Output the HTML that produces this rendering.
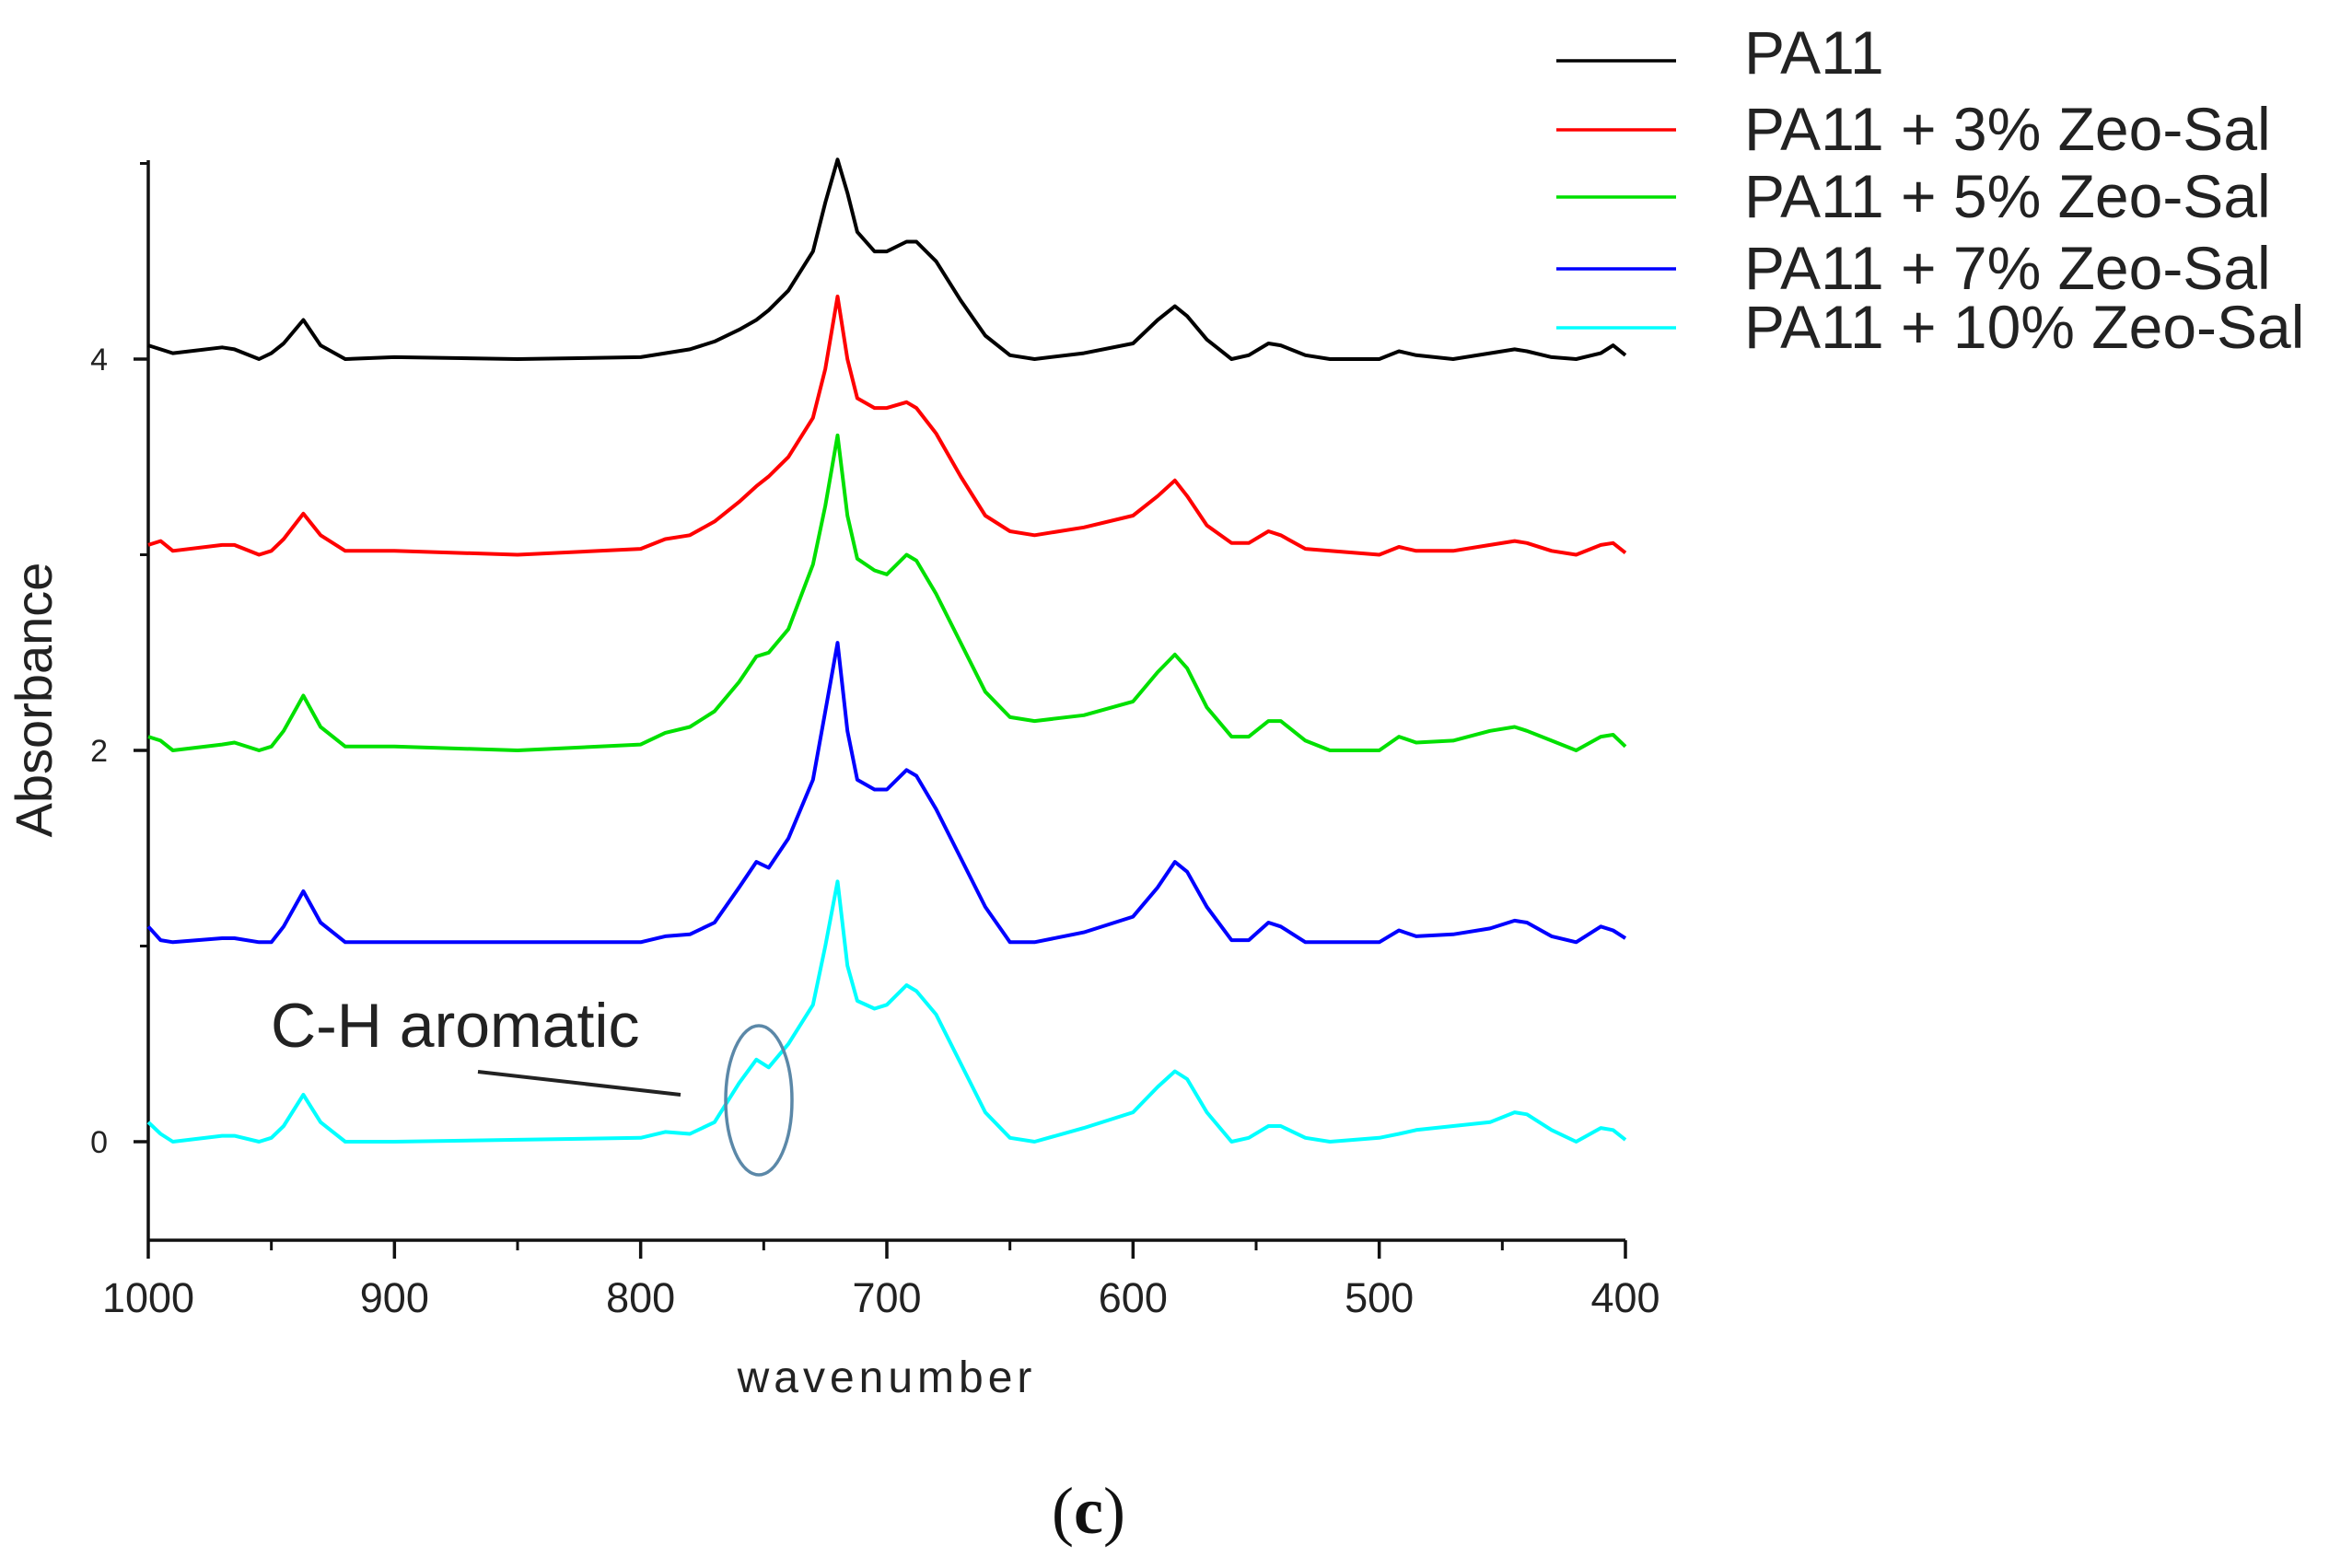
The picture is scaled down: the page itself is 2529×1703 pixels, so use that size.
<!DOCTYPE html>
<html><head><meta charset="utf-8"><style>
body{margin:0;background:#fff;}
svg{display:block;font-family:"Liberation Sans",sans-serif;}
</style></head><body>
<svg id="chart" width="2529" height="1703" viewBox="0 0 2529 1703">
<g id="axes"></g>
<g id="series"></g>
<text x="56" y="760" transform="rotate(-90 56 760)" text-anchor="middle" font-size="56" fill="#222">Absorbance</text>
<text x="963" y="1512" text-anchor="middle" font-size="48" letter-spacing="5" fill="#222">wavenumber</text>
<text x="294" y="1137" font-size="68" fill="#222">C-H aromatic</text>
<line x1="519" y1="1164" x2="739" y2="1189" stroke="#222" stroke-width="4"/>
<ellipse cx="824" cy="1195" rx="36" ry="81" fill="none" stroke="#5b88a8" stroke-width="3.5"/>
<text x="1182" y="1665" text-anchor="middle" font-family="Liberation Serif,serif" font-size="72" fill="#111">(<tspan font-weight="bold">c</tspan>)</text>
<g id="legend"></g>
</svg>
<script>
const wavenumbers=[1000,995,990,970,965,955,950,945,937,930,920,900,850,800,790,780,770,760,753,748,740,730,725,720,716,712,705,700,692,688,680,670,660,650,640,620,600,590,583,578,570,560,553,545,540,530,520,500,492,485,470,455,445,440,430,420,410,405,400];
const seriesNames=["PA11","PA11 + 3% Zeo-Sal","PA11 + 5% Zeo-Sal","PA11 + 7% Zeo-Sal","PA11 + 10% Zeo-Sal"];
const seriesColors=["#000000","#ff0000","#00e000","#0000ff","#00ffff"];
const offsets=[4,3,2,1,0];
const pa11=[0.07,0.05,0.03,0.06,0.05,0,0.03,0.08,0.2,0.07,0,0.01,0,0.01,0.03,0.05,0.09,0.15,0.2,0.25,0.35,0.55,0.8,1.02,0.85,0.65,0.55,0.55,0.6,0.6,0.5,0.3,0.12,0.02,0,0.03,0.08,0.2,0.27,0.22,0.1,0,0.02,0.08,0.07,0.02,0,0,0.04,0.02,0,0.03,0.05,0.04,0.01,0,0.03,0.07,0.02];
const pa11z3=[0.05,0.07,0.02,0.05,0.05,0,0.02,0.08,0.21,0.1,0.02,0.02,0,0.03,0.08,0.1,0.17,0.27,0.35,0.4,0.5,0.7,0.95,1.32,1.0,0.8,0.75,0.75,0.78,0.75,0.62,0.4,0.2,0.12,0.1,0.14,0.2,0.3,0.38,0.3,0.15,0.06,0.06,0.12,0.1,0.03,0.02,0,0.04,0.02,0.02,0.05,0.07,0.06,0.02,0,0.05,0.06,0.01];
const pa11z5=[0.07,0.05,0,0.03,0.04,0,0.02,0.1,0.28,0.12,0.02,0.02,0,0.03,0.09,0.12,0.2,0.35,0.48,0.5,0.62,0.95,1.25,1.61,1.2,0.98,0.92,0.9,1.0,0.97,0.8,0.55,0.3,0.17,0.15,0.18,0.25,0.4,0.49,0.42,0.22,0.07,0.07,0.15,0.15,0.05,0,0,0.07,0.04,0.05,0.1,0.12,0.1,0.05,0,0.07,0.08,0.02];
const pa11z7=[0.1,0.03,0.02,0.04,0.04,0.02,0.02,0.1,0.28,0.12,0.02,0.02,0.02,0.02,0.05,0.06,0.12,0.3,0.43,0.4,0.55,0.85,1.2,1.55,1.1,0.85,0.8,0.8,0.9,0.87,0.7,0.45,0.2,0.02,0.02,0.07,0.15,0.3,0.43,0.38,0.2,0.03,0.03,0.12,0.1,0.02,0.02,0.02,0.08,0.05,0.06,0.09,0.13,0.12,0.05,0.02,0.1,0.08,0.04];
const pa11z10=[0.1,0.04,0,0.03,0.03,0,0.02,0.08,0.24,0.1,0,0,0.01,0.02,0.05,0.04,0.1,0.3,0.42,0.38,0.5,0.7,1.0,1.33,0.9,0.72,0.68,0.7,0.8,0.77,0.65,0.4,0.15,0.02,0,0.07,0.15,0.28,0.36,0.32,0.15,0,0.02,0.08,0.08,0.02,0,0.02,0.04,0.06,0.08,0.1,0.15,0.14,0.06,0,0.07,0.06,0.01];
const seriesValues=[pa11,pa11z3,pa11z5,pa11z7,pa11z10];
const xTicks=[1000,900,800,700,600,500,400];
const xMinor=[950,850,750,650,550,450];
const yTicks=[0,2,4];
const yMinor=[1,3,5];

const NS="http://www.w3.org/2000/svg";
const X0=161,X1=1765,YTOP=174,YBOT=1347;
const xS=v=>X0+(1000-v)/(1000-400)*(X1-X0);
const yS=v=>1240-v*212.5;
function mk(tag,attrs,parent){const e=document.createElementNS(NS,tag);for(const k in attrs)e.setAttribute(k,attrs[k]);parent.appendChild(e);return e;}
const axes=document.getElementById('axes');
let el=mk('line',{x1:X0,y1:YTOP,x2:X0,y2:YBOT,stroke:'#111','stroke-width':3.5},axes);


el=mk('line',{x1:X0,y1:YBOT,x2:X1,y2:YBOT,stroke:'#111','stroke-width':3.5},axes);


xTicks.forEach(t=>{
 const x=xS(t);
 let tk=mk('line',{x1:x,y1:YBOT,x2:x,y2:YBOT+20,stroke:'#111','stroke-width':3.5},axes);
 
 
 const lb=mk('text',{x:x,y:1425,'text-anchor':'middle','font-size':45,fill:'#222'},axes);
 lb.textContent=t;
 
 
});
xMinor.forEach(t=>{
 const x=xS(t);
 let tk=mk('line',{x1:x,y1:YBOT,x2:x,y2:YBOT+11,stroke:'#111','stroke-width':3},axes);
 
 
});
yTicks.forEach(t=>{
 const y=yS(t);
 let tk=mk('line',{x1:X0-16,y1:y,x2:X0,y2:y,stroke:'#111','stroke-width':3.5},axes);
 
 
 const lb=mk('text',{x:117,y:y+12,'text-anchor':'end','font-size':34,fill:'#222'},axes);
 lb.textContent=t;
 
 
});
yMinor.forEach(t=>{
 const y=yS(t);
 let tk=mk('line',{x1:X0-9,y1:y,x2:X0,y2:y,stroke:'#111','stroke-width':3},axes);
 
 
});
const sg=document.getElementById('series');
seriesValues.forEach((vals,i)=>{
 const d=vals.map((v,j)=>(j?'L':'M')+xS(wavenumbers[j]).toFixed(1)+' '+yS(v+offsets[i]).toFixed(1)).join(' ');
 const p=mk('path',{d:d,fill:'none',stroke:seriesColors[i],'stroke-width':4,'stroke-linejoin':'round'},sg);
 
 
});
const lg=document.getElementById('legend');
const rowY=[66,141,214,292,356];
seriesNames.forEach((n,i)=>{
 const l=mk('line',{x1:1690,y1:rowY[i],x2:1820,y2:rowY[i],stroke:seriesColors[i],'stroke-width':3.5},lg);
 
 
 const t=mk('text',{x:1894,y:rowY[i]+(i==0?-2:6)+16,'font-size':66,fill:'#222'},lg);
 t.textContent=n;
 
 
});
</script>
</body></html>
